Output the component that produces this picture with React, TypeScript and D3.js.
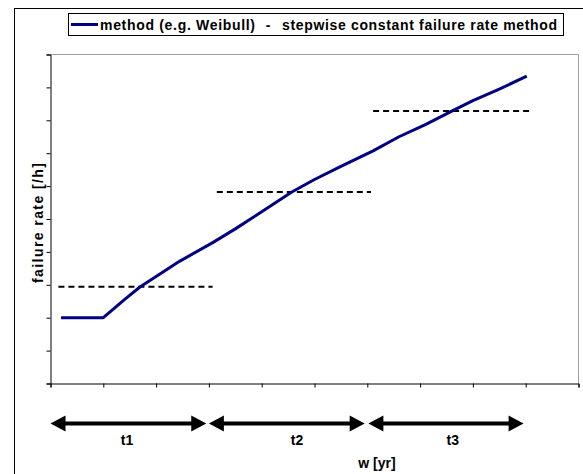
import React, { useEffect, useRef } from 'react';
import * as d3 from 'd3';

// failure rate curve (x in time units, y in rate units)
const curveX = [0.2, 1.0, 1.4, 1.7, 2.0, 2.45, 3.08, 3.5, 4.0, 4.57, 5.0, 5.5, 6.11, 6.6, 7.1, 7.6, 8.0, 8.5, 9.02];
const curveY = [2.0, 2.0, 2.55, 2.94, 3.25, 3.72, 4.29, 4.7, 5.22, 5.82, 6.2, 6.6, 7.07, 7.5, 7.87, 8.28, 8.6, 8.95, 9.34];

// stepwise constant rates
const stepStart = [0.15, 3.15, 6.11];
const stepEnd = [3.07, 6.07, 9.08];
const stepRate = [2.94, 5.82, 8.28];

// periods
const periodNames = ['t1', 't2', 't3'];
const periodStart = [0, 3.0, 6.02];
const periodEnd = [2.95, 5.95, 8.96];
const periodLabelAt = [1.45, 4.67, 7.62];

const xTicks = d3.range(0, 11);
const yTicks = d3.range(0, 11);

const FONT = '"Liberation Sans", Arial, sans-serif';

export default function App() {
  const ref = useRef<SVGSVGElement>(null);

  useEffect(() => {
    if (!ref.current) return;
    const svg = d3.select(ref.current);
    svg.selectAll('*').remove();

    const W = 583, H = 474;
    const plot = { left: 50.5, right: 578.5, top: 54.5, bottom: 383.5 };

    const x = d3.scaleLinear().domain([0, 10]).range([plot.left, plot.right]);
    const y = d3.scaleLinear().domain([0, 10]).range([plot.bottom, plot.top]);

    svg.append('rect').attr('width', W).attr('height', H).attr('fill', '#fff');

    // outer chart border
    svg.append('rect')
      .attr('x', 14.5).attr('y', 8.5).attr('width', 600).attr('height', 500)
      .attr('fill', 'none').attr('stroke', '#000').attr('stroke-width', 1);

    // plot area border (top / right)
    svg.append('path')
      .attr('d', `M${plot.left},${plot.top}H${plot.right}V${plot.bottom}`)
      .attr('fill', 'none').attr('stroke', '#a0a0a0').attr('stroke-width', 1);

    // y axis
    const gy = svg.append('g').attr('transform', `translate(${plot.left},0)`)
      .call(d3.axisLeft(y).tickValues(yTicks).tickSize(4).tickFormat(() => ''));
    gy.selectAll('path,line').attr('stroke', '#000');

    // x axis
    const gx = svg.append('g').attr('transform', `translate(0,${plot.bottom})`)
      .call(d3.axisBottom(x).tickValues(xTicks).tickSize(4).tickFormat(() => ''));
    gx.selectAll('path,line').attr('stroke', '#000');

    // stepwise dashes
    stepRate.forEach((r, i) => {
      svg.append('line')
        .attr('x1', x(stepStart[i])).attr('x2', x(stepEnd[i]))
        .attr('y1', y(r)).attr('y2', y(r))
        .attr('stroke', '#000').attr('stroke-width', 2)
        .attr('stroke-dasharray', '6,4');
    });

    // method curve
    const pts = curveX.map((v, i) => [v, curveY[i]] as [number, number]);
    svg.append('path')
      .attr('d', d3.line().x(d => x(d[0])).y(d => y(d[1]))(pts))
      .attr('fill', 'none').attr('stroke', '#000080').attr('stroke-width', 3)
      .attr('stroke-linejoin', 'round');

    // period arrows
    const ay = 423.5;
    const headL = 15, headH = 8;
    periodNames.forEach((name, i) => {
      const a = x(periodStart[i]), b = x(periodEnd[i]);
      svg.append('line')
        .attr('x1', a + headL - 1).attr('x2', b - headL + 1)
        .attr('y1', ay).attr('y2', ay)
        .attr('stroke', '#000').attr('stroke-width', 4);
      svg.append('path')
        .attr('d', `M${a},${ay}L${a + headL},${ay - headH}L${a + headL},${ay + headH}Z`)
        .attr('fill', '#000');
      svg.append('path')
        .attr('d', `M${b},${ay}L${b - headL},${ay - headH}L${b - headL},${ay + headH}Z`)
        .attr('fill', '#000');
      svg.append('text')
        .attr('x', x(periodLabelAt[i])).attr('y', 445)
        .attr('text-anchor', 'middle')
        .attr('font-family', FONT).attr('font-weight', 'bold').attr('font-size', 14)
        .text(name);
    });

    // axis titles
    svg.append('text')
      .attr('x', 377).attr('y', 468)
      .attr('text-anchor', 'middle')
      .attr('font-family', FONT).attr('font-weight', 'bold').attr('font-size', 14)
      .text('w [yr]');

    svg.append('text')
      .attr('transform', 'translate(42.5,223) rotate(-90)')
      .attr('text-anchor', 'middle')
      .attr('font-family', FONT).attr('font-weight', 'bold').attr('font-size', 14)
      .attr('textLength', 120).attr('lengthAdjust', 'spacing')
      .text('failure rate [/h]');

    // legend
    const lg = svg.append('g');
    lg.append('rect')
      .attr('x', 68.5).attr('y', 13.5).attr('width', 495).attr('height', 22)
      .attr('fill', '#fff').attr('stroke', '#000').attr('stroke-width', 1);
    lg.append('line')
      .attr('x1', 71).attr('x2', 98).attr('y1', 24.5).attr('y2', 24.5)
      .attr('stroke', '#000080').attr('stroke-width', 3);
    lg.append('text')
      .attr('x', 100).attr('y', 29.5)
      .attr('font-family', FONT).attr('font-weight', 'bold').attr('font-size', 14)
      .attr('textLength', 155).attr('lengthAdjust', 'spacing')
      .text('method (e.g. Weibull)');
    lg.append('text')
      .attr('x', 268).attr('y', 29.5)
      .attr('text-anchor', 'middle')
      .attr('font-family', FONT).attr('font-weight', 'bold').attr('font-size', 14)
      .text('-');
    lg.append('text')
      .attr('x', 282).attr('y', 29.5)
      .attr('font-family', FONT).attr('font-weight', 'bold').attr('font-size', 14)
      .attr('textLength', 275).attr('lengthAdjust', 'spacing')
      .text('stepwise constant failure rate method');
  }, []);

  return (
    <div style={{ position: 'fixed', left: 0, top: 0 }}>
      <svg ref={ref} width={583} height={474} style={{ display: 'block' }} />
    </div>
  );
}
